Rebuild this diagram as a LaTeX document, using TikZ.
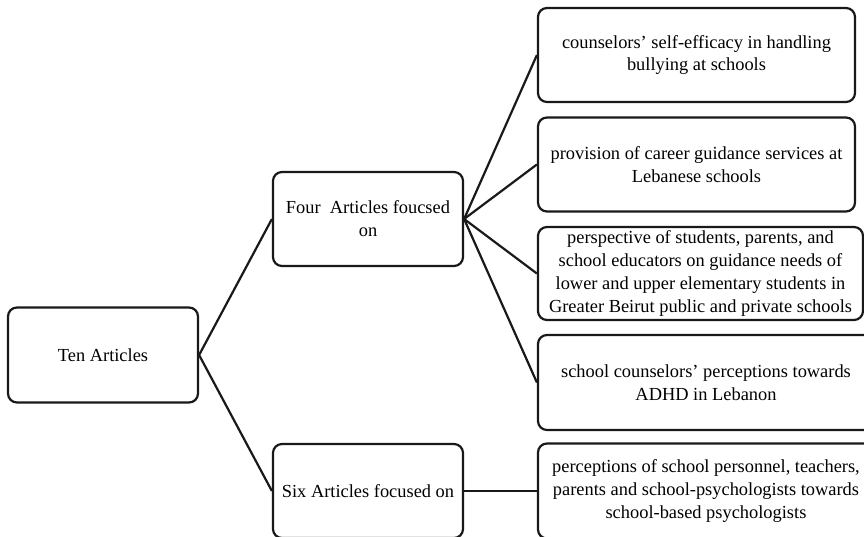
\documentclass[tikz,border=0pt]{standalone}
\usepackage{fontspec}
\setmainfont{Liberation Serif}
\begin{document}
\begin{tikzpicture}[x=1pt,y=-1pt,
  box/.style={draw=black!90, line width=2.2pt, rounded corners=9pt, align=center,
    inner sep=2pt, font=\fontsize{18.4}{22.8}\selectfont},
  link/.style={draw=black!90, line width=2.2pt}]
\useasboundingbox (0,0) rectangle (864,536);
\clip (0,0) rectangle (864,536);
\node[box, minimum width=190pt, minimum height=95pt] (ten) at (103,355) {Ten Articles};
\node[box, minimum width=190pt, minimum height=94pt] (four) at (368,219) {Four~~Articles foucsed\\on};
\node[box, minimum width=190pt, minimum height=94pt] (six) at (368,491) {Six Articles focused on};
\node[box, minimum width=317pt, minimum height=94pt] (r1) at (696.5,55) {counselors’ self-efficacy in handling\\bullying at schools};
\node[box, minimum width=317pt, minimum height=94pt] (r2) at (696.5,164.5) {provision of career guidance services at\\Lebanese schools};
\node[box, minimum width=325pt, minimum height=93pt] (r3) at (700.5,273.5) {perspective of students, parents, and\\school educators on guidance needs of\\lower and upper elementary students in\\Greater Beirut public and private schools};
\node[box, minimum width=336pt, minimum height=95pt] (r4) at (706,382.5) {school counselors’ perceptions towards\\ADHD in Lebanon};
\node[box, minimum width=336pt, minimum height=95pt] (r5) at (706,491) {perceptions of school personnel, teachers,\\parents and school-psychologists towards\\school-based psychologists};
\draw[link] (ten.east) -- (four.west);
\draw[link] (ten.east) -- (six.west);
\draw[link] (four.east) -- (r1.west);
\draw[link] (four.east) -- (r2.west);
\draw[link] (four.east) -- (r3.west);
\draw[link] (four.east) -- (r4.west);
\draw[link] (six.east) -- (r5.west);
\end{tikzpicture}
\end{document}
